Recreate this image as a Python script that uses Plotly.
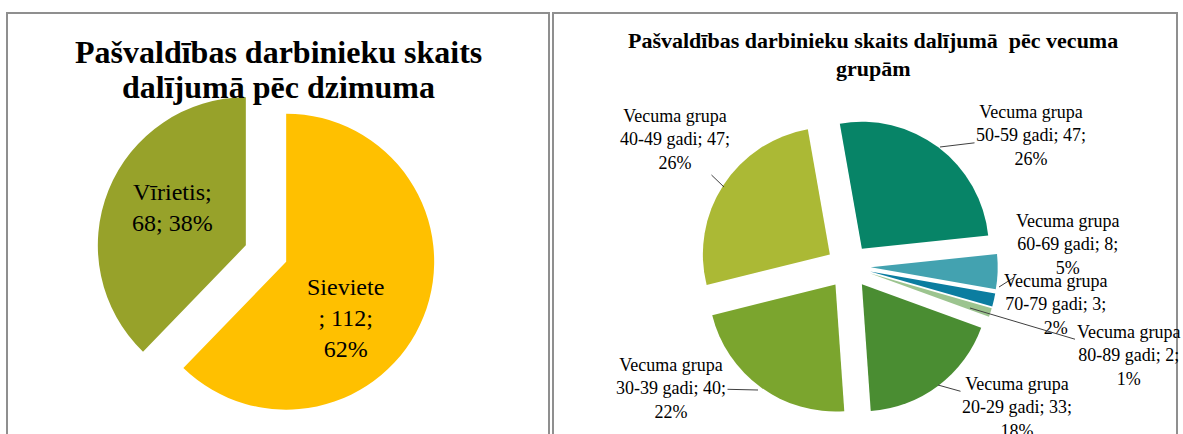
import plotly.graph_objects as go

# ---- data ----
gender_labels = ["Sieviete", "Vīrietis"]
gender_values = [112, 68]
gender_pct = ["62%", "38%"]
gender_colors = ["#FFC000", "#97A22A"]

age_labels = ["50-59 gadi", "60-69 gadi", "70-79 gadi", "80-89 gadi",
              "20-29 gadi", "30-39 gadi", "40-49 gadi"]
age_values = [47, 8, 3, 2, 33, 40, 47]
age_pct = ["26%", "5%", "2%", "1%", "18%", "22%", "26%"]
age_colors = ["#078467", "#43A2B0", "#0B7DA0", "#9CC48F",
              "#4A8D32", "#7BA52E", "#ABB935"]

W, H = 1183, 434
FONT = "Liberation Serif"


def px_to_dom(cx, cy, half):
    return dict(x=[(cx - half) / W, (cx + half) / W],
                y=[max(0, 1 - (cy + half) / H), min(1, 1 - (cy - half) / H)])


def px(x, y):
    return x / W, 1 - y / H


fig = go.Figure()

# left pie (gender)
R1, P1 = 148, 0.147
fig.add_trace(go.Pie(
    labels=gender_labels, values=gender_values, customdata=gender_pct,
    marker=dict(colors=gender_colors, line=dict(width=0)),
    sort=False, direction="clockwise", rotation=0,
    pull=[P1] * len(gender_values),
    textinfo="none",
    hoverinfo="label+value+percent",
    domain=px_to_dom(266, 253.5, R1 * (1 + P1)),
    showlegend=False,
))

# right pie (age groups)
R2, P2 = 127, 0.175
fig.add_trace(go.Pie(
    labels=age_labels, values=age_values, customdata=age_pct,
    marker=dict(colors=age_colors, line=dict(width=0)),
    sort=False, direction="clockwise", rotation=-10,
    pull=[P2] * len(age_values),
    textinfo="none",
    hoverinfo="label+value+percent",
    domain=px_to_dom(848.5, 266.5, R2 * (1 + P2)),
    showlegend=False,
))

# data labels, left pie
left_label_text = [
    f"{gender_labels[0]}<br>; {gender_values[0]};<br>{gender_pct[0]}",
    f"{gender_labels[1]};<br>{gender_values[1]}; {gender_pct[1]}",
]
left_label_pos = [(345, 318), (172, 207)]
for t, (x, y) in zip(left_label_text, left_label_pos):
    xp, yp = px(x, y)
    fig.add_annotation(text=t, x=xp, y=yp, xref="paper", yref="paper",
                       showarrow=False, xanchor="center", yanchor="middle",
                       font=dict(family=FONT, size=24, color="black"))

# data labels, right pie (text centre, leader-line target)
right_label_pos = {
    "50-59 gadi": ((1031, 136), (940, 147)),
    "60-69 gadi": ((1067, 244), (999, 287)),
    "70-79 gadi": ((1055, 304), None),
    "80-89 gadi": ((1128, 355), (970, 308)),
    "20-29 gadi": ((1017, 407), (938, 385)),
    "30-39 gadi": ((671, 388), (758, 390)),
    "40-49 gadi": ((675, 140), (724, 187)),
}
for lab, val, pct in zip(age_labels, age_values, age_pct):
    txt = f"Vecuma grupa<br>{lab}; {val};<br>{pct}"
    (tx, ty), tgt = right_label_pos[lab]
    f = dict(family=FONT, size=18, color="black")
    if tgt is None:
        xp, yp = px(tx, ty)
        fig.add_annotation(text=txt, x=xp, y=yp, xref="paper", yref="paper",
                           showarrow=False, xanchor="center", yanchor="middle", font=f)
    else:
        xp, yp = px(*tgt)
        fig.add_annotation(text=txt, x=xp, y=yp, xref="paper", yref="paper",
                           showarrow=True, arrowhead=0, arrowwidth=1,
                           arrowcolor="#404040", standoff=0, startstandoff=0,
                           ax=tx - tgt[0], ay=ty - tgt[1],
                           font=f)

# panel frames
for x0, x1 in [(7, 549), (553, 1177)]:
    fig.add_shape(type="rect", xref="paper", yref="paper",
                  x0=x0 / W, x1=x1 / W, y0=-0.05, y1=1 - 13 / H,
                  line=dict(color="#8f8f8f", width=2), layer="below")

# titles
titles = [
    ("<b>Pašvaldības darbinieku skaits</b>", 278, 52, 32),
    ("<b>dalījumā pēc dzimuma</b>", 278, 87, 32),
    ("<b>Pašvaldības darbinieku skaits dalījumā  pēc vecuma</b>", 873, 41, 22),
    ("<b>grupām</b>", 873, 68, 22),
]
for t, x, y, s in titles:
    xp, yp = px(x, y)
    fig.add_annotation(text=t, x=xp, y=yp, xref="paper", yref="paper",
                       showarrow=False, xanchor="center", yanchor="middle",
                       font=dict(family=FONT, size=s, color="black"))

fig.update_layout(width=W, height=H, margin=dict(l=0, r=0, t=0, b=0),
                  paper_bgcolor="white", plot_bgcolor="white")

fig.write_html("out.html",
               config={"displayModeBar": False},
               post_script="document.body.style.margin='0';"
                           "document.documentElement.style.overflow='hidden';"
                           "document.body.style.overflow='hidden';")
